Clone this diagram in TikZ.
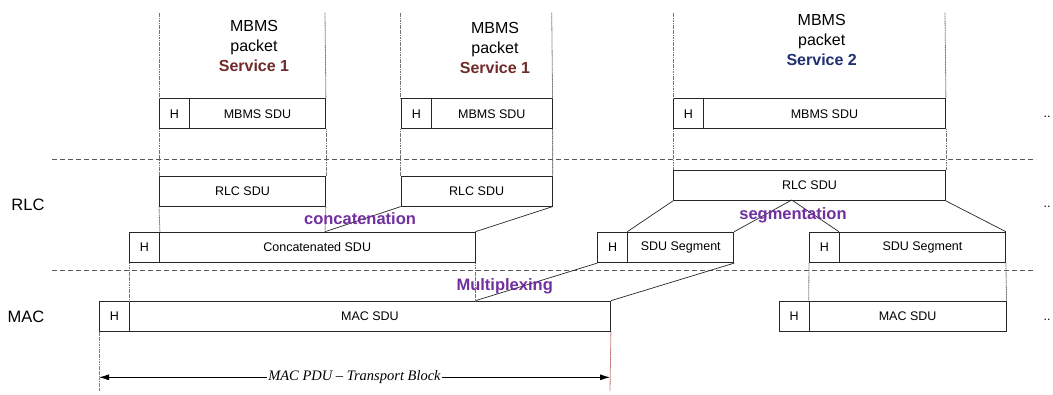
\documentclass[tikz,border=0pt]{standalone}
\usepackage{fontspec}
\setmainfont{Liberation Sans}
\newfontfamily\tmsfont[Ligatures=TeX]{Liberation Serif}
\usetikzlibrary{arrows.meta}
\definecolor{svcone}{RGB}{112,42,42}
\definecolor{svctwo}{RGB}{30,48,112}
\definecolor{purp}{RGB}{112,48,160}
\definecolor{redguide}{RGB}{190,100,100}
\begin{document}
\begin{tikzpicture}[x=1pt,y=-1pt,
  box/.style={draw=black!85, line width=0.9pt, fill=white, minimum height=30pt, inner sep=0pt, anchor=north west, font=\fontsize{12.5}{14}\selectfont},
  vguide/.style={draw=black!55, line width=0.8pt, dash pattern=on 1.2pt off 0.5pt},
  rguide/.style={draw=redguide, line width=0.8pt, dash pattern=on 1.2pt off 0.5pt},
  layerline/.style={draw=black!65, line width=0.9pt, dash pattern=on 5pt off 3pt},
  slant/.style={draw=black!85, line width=0.7pt},
  title/.style={align=center, font=\fontsize{16}{20}\selectfont},
  oplabel/.style={font=\bfseries\fontsize{16.5}{20}\selectfont, text=purp},
  layer/.style={font=\fontsize{16.5}{20}\selectfont},
  dots/.style={anchor=west, font=\fontsize{12.5}{14}\selectfont}
]
\useasboundingbox (0,0) rectangle (1053,394);

% layer separators
\coordinate (d1a) at (52,159);   \coordinate (d1b) at (1036,159);
\coordinate (d2a) at (52,270.7); \coordinate (d2b) at (1033,270.7);
\draw[layerline] (d1a) -- (d1b);
\draw[layerline] (d2a) -- (d2b);

% top guide coordinates
\coordinate (t1l) at (159,12.7);  \coordinate (t1r) at (325,12.7);
\coordinate (t2l) at (400.7,12.7);\coordinate (t2r) at (551.7,12.7);
\coordinate (t3l) at (673,12.7);  \coordinate (t3r) at (945,12.7);
\coordinate (c325) at (325,231.7);

% boxes
\node[box, minimum width=30pt]    (h1)   at (159,98.3)   {H};
\node[box, minimum width=136pt]   (sdu1) at (189,98.3)   {MBMS SDU};
\node[box, minimum width=30.3pt]  (h2)   at (400.7,98.3) {H};
\node[box, minimum width=120.7pt] (sdu2) at (431,98.3)   {MBMS SDU};
\node[box, minimum width=30pt]    (h3)   at (673,98.3)   {H};
\node[box, minimum width=242pt]   (sdu3) at (703,98.3)   {MBMS SDU};

\node[box, minimum width=166pt]   (rlc1) at (159,175.7)  {RLC SDU};
\node[box, minimum width=151pt]   (rlc2) at (400.7,175.7){RLC SDU};
\node[box, minimum width=272pt]   (rlc3) at (673,170)    {RLC SDU};

\node[box, minimum width=30pt, minimum height=30.5pt]    (ch)   at (129,231.7)   {H};
\node[box, minimum width=315.5pt, minimum height=30.5pt] (csdu) at (159,231.7)   {Concatenated SDU};
\node[box, minimum width=30pt, minimum height=30.5pt]    (sh1)  at (597.3,231.7) {H};
\node[box, minimum width=106pt, minimum height=30.5pt]   (seg1) at (627.3,231.7) {SDU Segment};
\node[box, minimum width=30pt, minimum height=30.5pt]    (sh2)  at (809,231.7)   {H};
\node[box, minimum width=166pt, minimum height=30.5pt]   (seg2) at (839,231.7)   {SDU Segment};

\node[box, minimum width=30pt]    (mh1)  at (99,300.7)   {H};
\node[box, minimum width=481pt]   (mac1) at (129,300.7)  {MAC SDU};
\node[box, minimum width=30.2pt]  (mh2)  at (778.5,300.7){H};
\node[box, minimum width=197pt]   (mac2) at (808.7,300.7){MAC SDU};

% vertical guides
\draw[vguide] (t1l) -- (h1.north west);
\draw[vguide] (h1.south west) -- (rlc1.north west);
\draw[vguide] (rlc1.south west) -- (ch.north east);
\draw[vguide] (t1r) -- (sdu1.north east);
\draw[vguide] (sdu1.south east) -- (rlc1.north east);
\draw[vguide] (rlc1.south east) -- (c325);
\draw[vguide] (t2l) -- (h2.north west);
\draw[vguide] (h2.south west) -- (rlc2.north west);
\draw[vguide] (t2r) -- (sdu2.north east);
\draw[vguide] (sdu2.south east) -- (rlc2.north east);
\draw[vguide] (t3l) -- (h3.north west);
\draw[vguide] (h3.south west) -- (rlc3.north west);
\draw[vguide] (t3r) -- (sdu3.north east);
\draw[vguide] (sdu3.south east) -- (rlc3.north east);
\draw[vguide] (ch.south west) -- (mac1.north west);
\draw[vguide] (csdu.south east) -- (csdu.south east |- mac1.north);
\draw[vguide] (sh2.south west) -- (mac2.north west);
\draw[vguide] (seg2.south east) -- (mac2.north east);

% concatenation
\draw[slant] (rlc2.south west) -- (c325);
\draw[slant] (rlc2.south east) -- (csdu.north east);
% segmentation
\coordinate (rmid) at (791.7,200);
\draw[slant] (rlc3.south west) -- (seg1.north west);
\draw[slant] (rmid) -- (seg1.north east);
\draw[slant] (rmid) -- (seg2.north west);
\draw[slant] (rlc3.south east) -- (seg2.north east);
% multiplexing
\draw[slant] (sh1.south west) -- (csdu.south east |- mac1.north);
\draw[slant] (seg1.south east) -- (mac1.north east);

% bottom guides and arrow
\coordinate (b1) at (99,391);  \coordinate (b2) at (610,391);
\draw[rguide] (mh1.south west) -- (b1);
\draw[rguide] (mac1.south east) -- (b2);
\coordinate (a1) at (99,377.3); \coordinate (a2) at (610,377.3);
\draw[line width=0.8pt, {Latex[length=10pt,width=6pt]}-{Latex[length=10pt,width=6pt]}] (a1) -- (a2)
  node[midway, fill=white, inner sep=1pt, font=\tmsfont\itshape\fontsize{14.5}{16}\selectfont] (pdu) {MAC PDU – Transport Block};

% titles
\node[title] (s1a) at (254,45.5) {MBMS\\packet\\{\bfseries\color{svcone}Service 1}};
\node[title] (s1b) at (495,47.5) {MBMS\\packet\\{\bfseries\color{svcone}Service 1}};
\node[title] (s2)  at (821.7,40) {MBMS\\packet\\{\bfseries\color{svctwo}Service 2}};

% operation labels
\node[oplabel] (conc) at (360,219) {concatenation};
\node[oplabel] (segm) at (793,215) {segmentation};
\node[oplabel] (mux)  at (504.7,286) {Multiplexing};

% layer labels
\node[layer] (rlcl) at (28,205) {RLC};
\node[layer] (macl) at (26,317) {MAC};

% continuation dots
\node[dots] (dt1) at (1040,117) {..};
\node[dots] (dt2) at (1040,207) {..};
\node[dots] (dt3) at (1040,320) {..};
\end{tikzpicture}
\end{document}
